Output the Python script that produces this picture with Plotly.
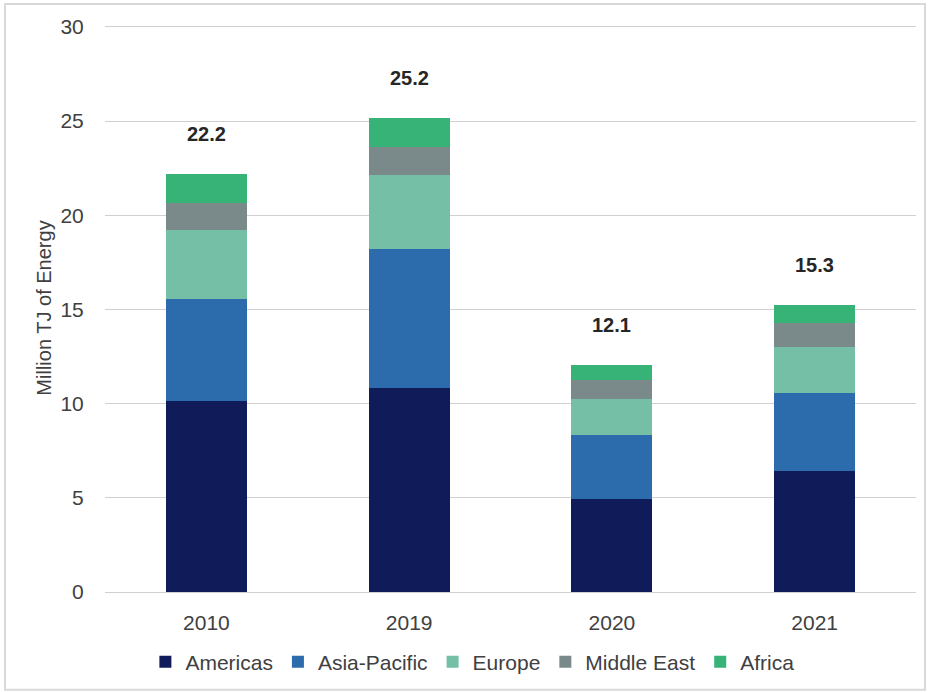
import plotly.graph_objects as go

years = ["2010", "2019", "2020", "2021"]
americas = [10.15, 10.81, 4.95, 6.40]
asia_pacific = [5.40, 7.42, 3.37, 4.17]
europe = [3.65, 3.92, 1.92, 2.43]
middle_east = [1.45, 1.48, 1.00, 1.26]
africa = [1.55, 1.54, 0.83, 1.00]
total_labels = ["22.2", "25.2", "12.1", "15.3"]

series = [
    ("Americas", americas, "#101c5a"),
    ("Asia-Pacific", asia_pacific, "#2c6cad"),
    ("Europe", europe, "#74bfa6"),
    ("Middle East", middle_east, "#7a8a8a"),
    ("Africa", africa, "#37b378"),
]

FONT = "Liberation Sans, Arial, sans-serif"
fig = go.Figure()
for name, vals, color in series:
    fig.add_trace(go.Bar(x=years, y=vals, name=name, marker=dict(color=color, line=dict(width=0))))

totals = [sum(v) for v in zip(americas, asia_pacific, europe, middle_east, africa)]
for i, (tot, lab) in enumerate(zip(totals, total_labels)):
    fig.add_annotation(x=i, y=tot, xref="x", yref="y", text="<b>%s</b>" % lab, showarrow=False,
                       yshift=40, font=dict(family=FONT, size=20, color="#262626"))

# light frame around the whole chart
L, R, T, B = 105, 916, 24, 593
W, H = R - L, B - T
def px(x): return (x - L) / W
def py(y): return (B - y) / H
fig.add_shape(type="rect", xref="paper", yref="paper",
              x0=px(5), x1=px(925), y0=py(691), y1=py(4),
              line=dict(color="#d9d9d9", width=2), fillcolor="rgba(0,0,0,0)", layer="below")

fig.update_layout(
    width=928, height=693,
    margin=dict(l=L, r=928 - R, t=T, b=693 - B),
    paper_bgcolor="white", plot_bgcolor="white",
    barmode="stack", bargap=0.6,
    font=dict(family=FONT, size=21, color="#404040"),
    legend=dict(orientation="h", x=0.453, xanchor="center", y=py(662), yanchor="middle",
                font=dict(family=FONT, size=21, color="#404040"), traceorder="normal",
                itemwidth=30),
    showlegend=True,
)
fig.update_yaxes(range=[0, 30.15], tickvals=[0, 5, 10, 15, 20, 25, 30], showgrid=True,
                 gridcolor="#d0d0d0", gridwidth=1.3,
                 zeroline=False, showline=False,
                 ticks="outside", ticklen=16, tickcolor="rgba(0,0,0,0)",
                 title=dict(text="Million TJ of Energy", font=dict(family=FONT, size=20, color="#404040"), standoff=3),
                 tickfont=dict(family=FONT, size=21, color="#404040"))
fig.update_xaxes(type="category", range=[-0.5, 3.5], showgrid=False, showline=True,
                 linecolor="#d0d0d0", linewidth=1.3,
                 ticks="outside", ticklen=12, tickcolor="rgba(0,0,0,0)",
                 tickfont=dict(family=FONT, size=21, color="#404040"))

fig.write_html("out.html")
